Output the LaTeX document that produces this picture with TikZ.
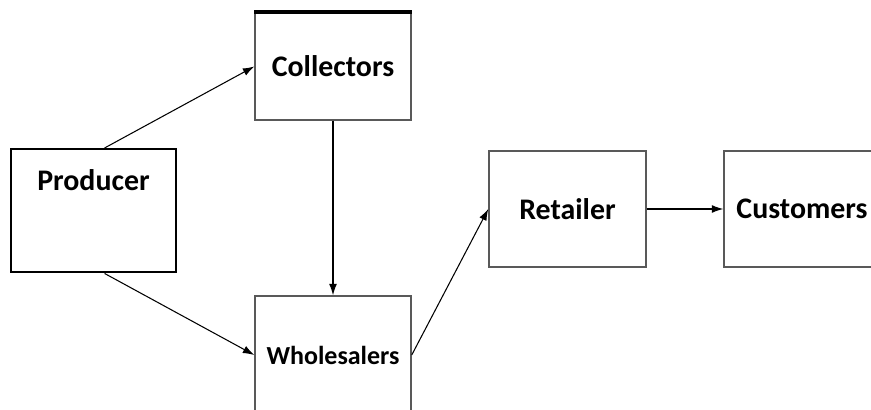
\documentclass[tikz,border=0pt]{standalone}
\usepackage{fontspec}
\setmainfont{Carlito}
\usetikzlibrary{arrows.meta}

\begin{document}
\begin{tikzpicture}[x=0.02cm, y=0.02cm,
    box/.style={draw=black!65, line width=0.85pt, inner sep=0pt,
        minimum width=3.14cm, minimum height=2.32cm,
        font=\fontsize{17}{20}\selectfont\bfseries},
    link/.style={-{Latex[length=6.5pt,width=4.5pt]}, line width=0.6pt}]
    \clip (0,0) rectangle (871,409);
    \node[box, draw=black, line width=1.4pt, minimum width=3.3cm,
        text height=0.82cm, text depth=1.64cm, anchor=north] (producer) at (93.5,261) {Producer};
    \node[box, minimum width=3.12cm, minimum height=2.14cm] (collectors) at (333,342.5) {Collectors};
    \node[box, minimum width=3.12cm, minimum height=2.36cm, font=\fontsize{14.8}{18}\selectfont\bfseries] (wholesalers) at (333,54) {Wholesalers};
    \node[box] (retailer) at (567.5,200) {Retailer};
    \node[box, minimum width=3.12cm] (customers) at (802,200) {Customers};
    % heavy rule on top of collectors
    \draw[line width=2.2pt] (collectors.north west) -- (collectors.north east);
    % flows
    \draw[link] (producer.80) -- (collectors.west);
    \draw[link] (producer.-80) -- (wholesalers.west);
    \draw[link] (collectors.south) -- (wholesalers.north);
    \draw[link] (wholesalers.east) -- (retailer.west);
    \draw[link] (retailer.east) -- (customers.west);
\end{tikzpicture}
\end{document}
